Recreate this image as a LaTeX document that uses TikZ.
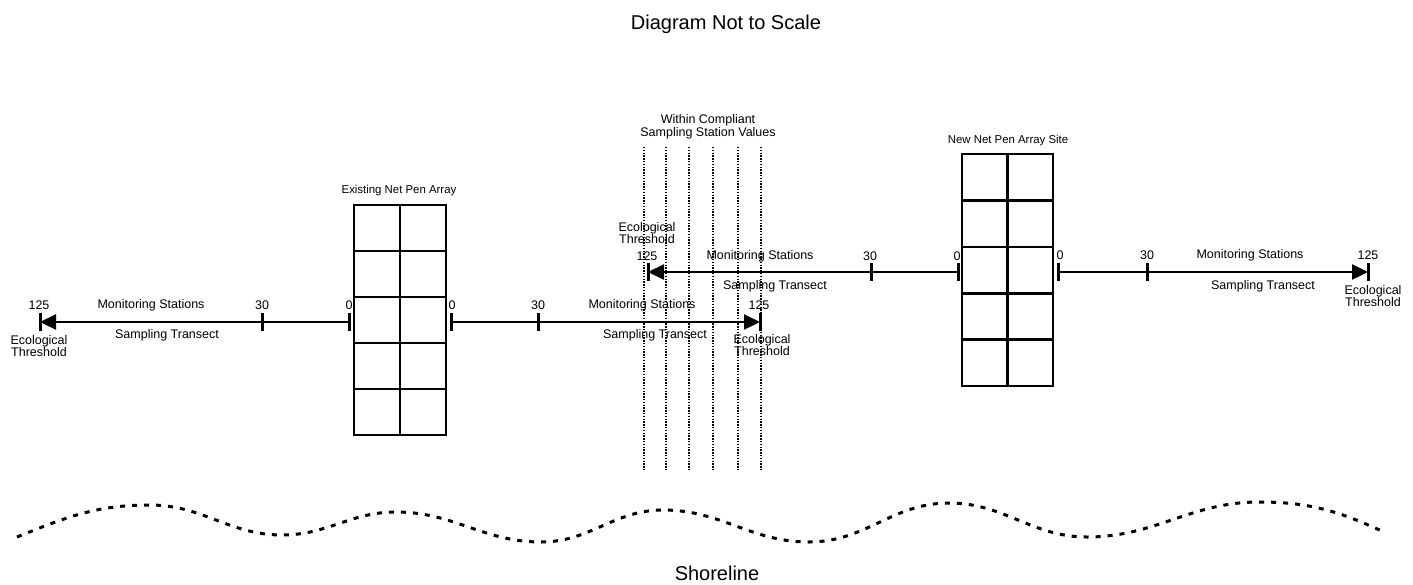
\documentclass[tikz,border=0pt]{standalone}
\usepackage{fontspec}
\setmainfont{Liberation Sans}
\usetikzlibrary{arrows.meta}
\begin{document}
\begin{tikzpicture}[x=1pt,y=-1pt,
  lbl/.style={font=\fontsize{12.5}{11.5}\selectfont, inner sep=0pt, align=center},
  arrlbl/.style={font=\fontsize{11.4}{12}\selectfont, inner sep=0pt},
  big/.style={font=\fontsize{20}{24}\selectfont, inner sep=0pt},
  transect/.style={line width=2.3pt},
  tickmark/.style={line width=3pt},
  pen/.style={line width=2.6pt},
  compliance/.style={line width=1.4pt, dash pattern=on 1.3pt off 1.5pt},
  shore/.style={line width=3pt, dash pattern=on 5pt off 7pt},
  tip/.style={-{Triangle[length=16pt,width=15pt]}}
]
\useasboundingbox (0,0) rectangle (1413,584);

% title
\node[big, anchor=base] (title) at (726,29) {Diagram Not to Scale};

% compliant zone dotted lines
\foreach \x in {644,666,689,713,738,761}
  \draw[compliance] (\x,147) -- (\x,470);
\node[lbl] (within) at (708,127) {Within Compliant\\Sampling Station Values};

% existing net pen array
\node[pen, draw, minimum width=92pt, minimum height=230pt, inner sep=0pt] (existing) at (400,320) {};
\draw[pen] (existing.north) -- (existing.south);
\foreach \y in {251,297,343,389}
  \draw[pen] (354,\y) -- (446,\y);
\node[arrlbl] (existinglbl) at (399,191) {Existing Net Pen Array};

% new net pen array site
\node[pen, draw, minimum width=91pt, minimum height=232pt, inner sep=0pt] (newsite) at (1007.5,270) {};
\draw[pen] (newsite.north) -- (newsite.south);
\foreach \y in {200.4,246.8,293.2,339.6}
  \draw[pen] (962,\y) -- (1053,\y);
\node[arrlbl] (newlbl) at (1008,141) {New Net Pen Array Site};

% left transect
\coordinate (L125) at (40,322);
\coordinate (L30) at (262,322);
\coordinate (L0) at (349,322);
\draw[transect, tip] (L0) -- (L125);
\foreach \c in {L125,L30,L0} \draw[tickmark] (\c) ++(0,-9) -- ++(0,18);
\node[lbl] at (39,305) {125};
\node[lbl] at (151,305) {Monitoring Stations};
\node[lbl] at (262,305) {30};
\node[lbl] at (349,305) {0};
\node[lbl] at (167,335) {Sampling Transect};
\node[lbl] at (39,346) {Ecological\\Threshold};

% transect right of existing array
\coordinate (R0) at (451,322);
\coordinate (R30) at (538,322);
\coordinate (R125) at (760,322);
\draw[transect, tip] (R0) -- (R125);
\foreach \c in {R0,R30,R125} \draw[tickmark] (\c) ++(0,-9) -- ++(0,18);
\node[lbl] at (452,305) {0};
\node[lbl] at (538,305) {30};
\node[lbl] at (642,305) {Monitoring Stations};
\node[lbl] at (759,305) {125};
\node[lbl] at (655,335) {Sampling Transect};
\node[lbl] at (762,345) {Ecological\\Threshold};

% transect left of new site
\coordinate (M125) at (648,272);
\coordinate (M30) at (871,272);
\coordinate (M0) at (958,272);
\draw[transect, tip] (M0) -- (M125);
\foreach \c in {M125,M30,M0} \draw[tickmark] (\c) ++(0,-9) -- ++(0,18);
\node[lbl] at (647,256) {125};
\node[lbl] at (647,233) {Ecological\\Threshold};
\node[lbl] at (760,256) {Monitoring Stations};
\node[lbl] at (870,256) {30};
\node[lbl] at (957,256) {0};
\node[lbl] at (775,286) {Sampling Transect};

% transect right of new site
\coordinate (N0) at (1058,272);
\coordinate (N30) at (1147,272);
\coordinate (N125) at (1368,272);
\draw[transect, tip] (N0) -- (N125);
\foreach \c in {N0,N30,N125} \draw[tickmark] (\c) ++(0,-9) -- ++(0,18);
\node[lbl] at (1060,255) {0};
\node[lbl] at (1147,255) {30};
\node[lbl] at (1250,255) {Monitoring Stations};
\node[lbl] at (1368,255) {125};
\node[lbl] at (1263,286) {Sampling Transect};
\node[lbl] at (1373,296) {Ecological\\Threshold};

% shoreline
\draw[shore] (17,537) to[out=22,in=180] (150,505)
  to[out=0,in=180] (282,535) to[out=0,in=180] (396,512)
  to[out=0,in=180] (541,542) to[out=0,in=180] (663,510)
  to[out=0,in=180] (809,542) to[out=0,in=180] (949,503)
  to[out=0,in=180] (1087,537) to[out=0,in=180] (1259,502)
  to[out=0,in=155] (1386,533);
\node[big, anchor=base] (shoreline) at (717,580) {Shoreline};
\end{tikzpicture}
\end{document}
